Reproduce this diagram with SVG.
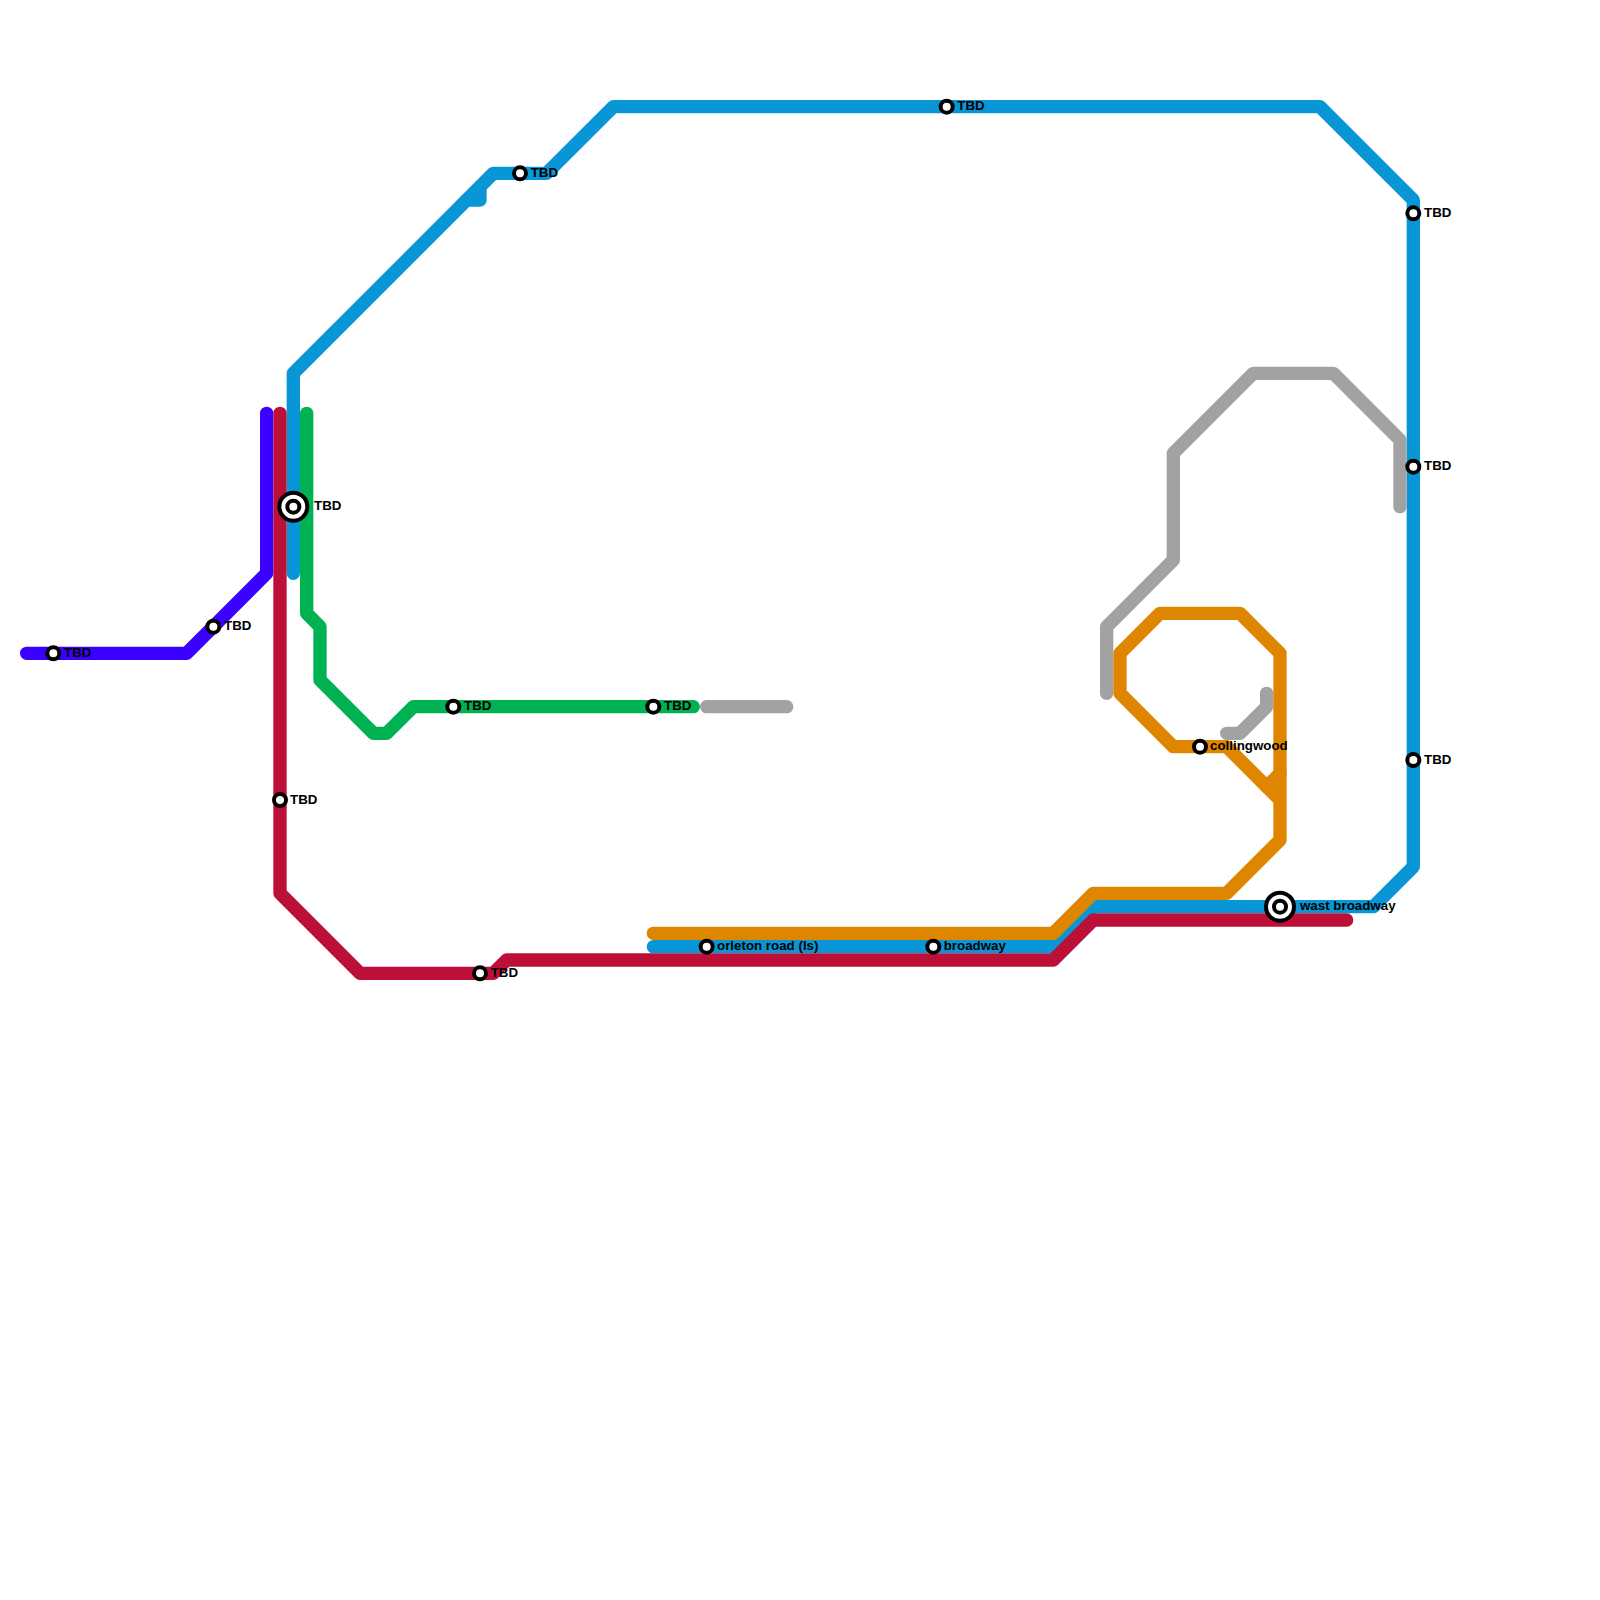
<svg xmlns="http://www.w3.org/2000/svg" width="1600" height="1600" viewBox="0 0 1600 1600">
<style>
.l{fill:none;stroke-width:13.33;stroke-linecap:round;stroke-linejoin:round}
.st{fill:#fff;stroke:#000;stroke-width:4}
text{font-family:"Liberation Sans",Arial,sans-serif;font-weight:700;font-size:13.33px;fill:#000}
</style>
<rect width="1600" height="1600" fill="#fff"/>
<g id="connectors">
<path id="line-violet" class="l" stroke="#3b00ff" d="M266.67 413.33V573.33L186.67 653.33H26.67"/>
<path id="line-blue" class="l" stroke="#0896d7" d="M293.33 573.33V373.33L493.33 173.33H546.67L613.33 106.67H1320L1413.33 200V866.67L1373.33 906.67H1093.33L1053.33 946.67H653.33"/>
<path id="line-blue-stub" class="l" stroke="#0896d7" d="M480 186.67V200H466.67"/>
<path id="line-gray-1" class="l" stroke="#a2a2a2" d="M1106.67 693.33V626.67L1173.33 560V453.33L1253.33 373.33H1333.33L1400 440V506.67"/>
<path id="line-gray-2" class="l" stroke="#a2a2a2" d="M706.67 706.67H786.67"/>
<path id="line-gray-3" class="l" stroke="#a2a2a2" d="M1226.67 733.33H1240L1266.67 706.67V693.33"/>
<path id="line-green" class="l" stroke="#00b251" d="M306.67 413.33V613.33L320 626.67V680L373.33 733.33H386.67L413.33 706.67H693.33"/>
<path id="line-orange" class="l" stroke="#df8600" d="M653.33 933.33H1053.33L1093.33 893.33H1226.67L1280 840V653.33L1240 613.33H1160L1120 653.33V693.33L1173.33 746.67H1226.67L1280 800"/>
<path id="line-orange-stub" class="l" stroke="#df8600" d="M1280 773.33L1266.67 786.67"/>
<path id="line-red" class="l" stroke="#bd1038" d="M280 413.33V893.33L360 973.33H493.33L506.67 960H1053.33L1093.33 920H1346.67"/>
</g>
<g id="n1"><circle class="st" cx="53.33" cy="653.33" r="6"/><text x="64" y="657">TBD</text></g>
<g id="n2"><circle class="st" cx="213.33" cy="626.67" r="6"/><text x="224" y="630.3">TBD</text></g>
<g id="n3"><circle class="st" cx="293.33" cy="506.67" r="14"/><circle class="st" cx="293.33" cy="506.67" r="6"/><text x="314" y="510.3">TBD</text></g>
<g id="n4"><circle class="st" cx="280" cy="800" r="6"/><text x="290" y="803.7">TBD</text></g>
<g id="n5"><circle class="st" cx="453.33" cy="706.67" r="6"/><text x="464" y="710.3">TBD</text></g>
<g id="n6"><circle class="st" cx="480" cy="973.33" r="6"/><text x="490.67" y="977">TBD</text></g>
<g id="n7"><circle class="st" cx="520" cy="173.33" r="6"/><text x="530.67" y="177">TBD</text></g>
<g id="n8"><circle class="st" cx="653.33" cy="706.67" r="6"/><text x="664" y="710.3">TBD</text></g>
<g id="n9"><circle class="st" cx="706.67" cy="946.67" r="6"/><text x="717" y="950.3">orleton road (ls)</text></g>
<g id="n10"><circle class="st" cx="933.33" cy="946.67" r="6"/><text x="943.7" y="950.3">broadway</text></g>
<g id="n11"><circle class="st" cx="946.67" cy="106.67" r="6"/><text x="957.3" y="110.3">TBD</text></g>
<g id="n12"><circle class="st" cx="1200" cy="746.67" r="6"/><text x="1210" y="750.3">collingwood</text></g>
<g id="n13"><circle class="st" cx="1280" cy="906.67" r="14"/><circle class="st" cx="1280" cy="906.67" r="6"/><text x="1300" y="910.3">wast broadway</text></g>
<g id="n14"><circle class="st" cx="1413.33" cy="213.33" r="6"/><text x="1424" y="217">TBD</text></g>
<g id="n15"><circle class="st" cx="1413.33" cy="466.67" r="6"/><text x="1424" y="470.3">TBD</text></g>
<g id="n16"><circle class="st" cx="1413.33" cy="760" r="6"/><text x="1424" y="763.7">TBD</text></g>
</svg>
